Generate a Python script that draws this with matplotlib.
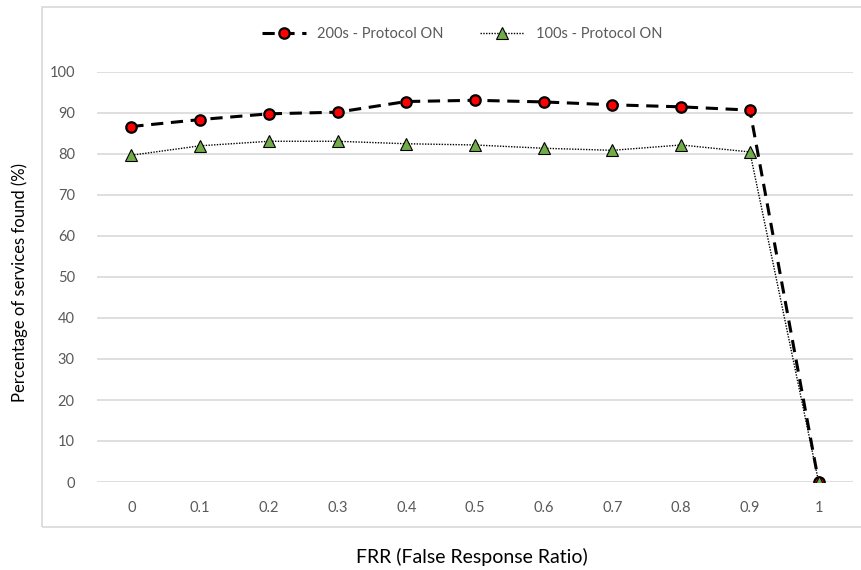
import numpy as np
from matplotlib import pyplot as plt
from matplotlib.patches import Rectangle

plt.rcParams['font.family'] = ['Lato', 'DejaVu Sans']

frr = ['0', '0.1', '0.2', '0.3', '0.4', '0.5', '0.6', '0.7', '0.8', '0.9', '1']
found_200s = [86.7, 88.4, 89.8, 90.2, 92.8, 93.1, 92.7, 92.0, 91.5, 90.7, 0]
found_100s = [79.7, 82.0, 83.1, 83.1, 82.5, 82.2, 81.4, 80.9, 82.2, 80.5, 0]

GRID = '#D9D9D9'
TICK = '#595959'

fig = plt.figure(figsize=(8.62, 5.70), dpi=100)
ax = fig.add_axes([97 / 862, 1 - 482 / 570, (853 - 97) / 862, (482 - 72) / 570])

# chart border
fig.patches.append(Rectangle((42 / 862, 1 - 527 / 570), 1.0, (527 - 7) / 570,
                             transform=fig.transFigure, fill=False,
                             edgecolor=GRID, linewidth=1.2, zorder=0))

x = np.arange(len(frr))
ax.plot(x, found_200s, color='black', linestyle=(0, (4, 2.5)), linewidth=2.2,
        marker='o', markersize=7.5, markerfacecolor='#FF0000',
        markeredgecolor='black', markeredgewidth=1.6,
        label='200s - Protocol ON', zorder=3)
ax.plot(x, found_100s, color='black', linestyle=(0, (1, 1)), linewidth=1.0,
        marker='^', markersize=8, markerfacecolor='#70AD47',
        markeredgecolor='black', markeredgewidth=0.8,
        label='100s - Protocol ON', zorder=4)

ax.set_xlim(-0.5, len(frr) - 0.5)
ax.set_ylim(0, 100)
ax.set_yticks(np.arange(0, 101, 10))
ax.set_xticks(x)
ax.set_xticklabels(frr)
ax.grid(axis='y', color=GRID, linewidth=1.2)
ax.set_axisbelow(True)
for s in ax.spines.values():
    s.set_visible(False)
ax.tick_params(length=0, colors=TICK, labelsize=10.5)
ax.tick_params(axis='y', pad=16)
ax.tick_params(axis='x', pad=14)

fig.text(20 / 862, 1 - 283 / 570, 'Percentage of services found (%)',
         rotation=90, ha='center', va='center', fontsize=12, color='black')
fig.text(472 / 862, 1 - 557 / 570, 'FRR (False Response Ratio)',
         ha='center', va='center', fontsize=14, color='black')

fig.legend(loc='center', bbox_to_anchor=(462 / 862, 1 - 34 / 570), ncol=2,
           frameon=False, fontsize=10.5, handlelength=3.0, columnspacing=2.5,
           labelcolor=TICK)

fig.savefig('out.png', dpi=100)
